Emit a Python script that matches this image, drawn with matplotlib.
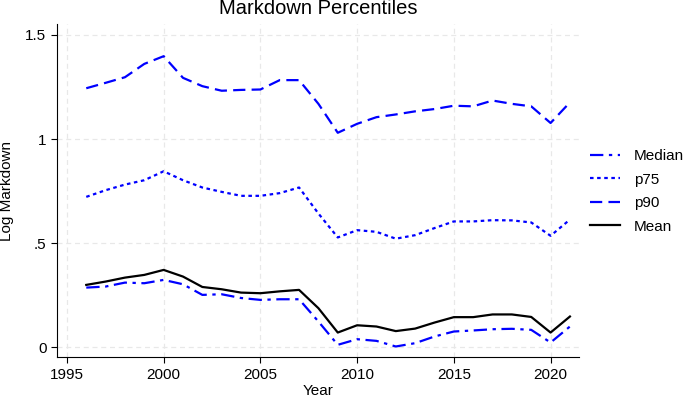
import matplotlib
matplotlib.use("Agg")
import matplotlib.pyplot as plt

# data
years = list(range(1996, 2022))
median = [0.286, 0.291, 0.310, 0.307, 0.323, 0.302, 0.251, 0.254, 0.236, 0.227,
          0.230, 0.230, 0.123, 0.011, 0.038, 0.030, 0.003, 0.019, 0.051, 0.075,
          0.080, 0.086, 0.088, 0.083, 0.022, 0.099]
p75 = [0.722, 0.754, 0.781, 0.802, 0.845, 0.802, 0.767, 0.746, 0.727, 0.727,
       0.740, 0.767, 0.642, 0.527, 0.562, 0.554, 0.521, 0.538, 0.572, 0.604,
       0.604, 0.610, 0.609, 0.599, 0.535, 0.613]
p90 = [1.244, 1.270, 1.297, 1.361, 1.398, 1.294, 1.254, 1.232, 1.236, 1.238,
       1.283, 1.283, 1.169, 1.030, 1.073, 1.105, 1.118, 1.133, 1.144, 1.160,
       1.157, 1.185, 1.169, 1.157, 1.077, 1.176]
mean = [0.299, 0.315, 0.334, 0.347, 0.371, 0.339, 0.289, 0.278, 0.262, 0.259,
        0.268, 0.275, 0.187, 0.070, 0.105, 0.099, 0.077, 0.089, 0.118, 0.144,
        0.144, 0.157, 0.157, 0.145, 0.070, 0.147]

xticks = [1995, 2000, 2005, 2010, 2015, 2020]
yticks = [0, 0.5, 1, 1.5]
ylabels = ["0", ".5", "1", "1.5"]

plt.rcParams['font.family'] = ['Liberation Sans', 'DejaVu Sans']

fig = plt.figure(figsize=(6.85, 3.99), dpi=100)
ax = fig.add_axes([0.083, 0.105, 0.762, 0.835])

blue = "#0000ff"
ax.plot(years, median, color=blue, lw=1.6, dashes=(6, 2.5, 1.5, 2.5), label="Median")
ax.plot(years, p75, color=blue, lw=1.6, dashes=(1.6, 1.6), label="p75")
ax.plot(years, p90, color=blue, lw=1.6, dashes=(5.5, 2.8), label="p90")
ax.plot(years, mean, color="black", lw=1.6, label="Mean")

ax.set_xlim(1994.48, 2021.46)
ax.set_ylim(-0.048, 1.553)
ax.set_xticks(xticks)
ax.set_yticks(yticks)
ax.set_yticklabels(ylabels)
ax.tick_params(labelsize=11, length=4, width=0.8, direction="out")

ax.grid(True, color="#e8e8e8", ls=(0, (4, 3)), lw=0.9)
ax.set_axisbelow(True)
for s in ["top", "right"]:
    ax.spines[s].set_visible(False)

ax.set_title("Markdown Percentiles", fontsize=14.5, pad=7)
ax.set_xlabel("Year", fontsize=11, labelpad=2)
ax.set_ylabel("Log Markdown", fontsize=11, labelpad=8)

fig.legend(loc="center left", bbox_to_anchor=(0.841, 0.52), frameon=False,
           fontsize=11, handlelength=2.0, handletextpad=0.9, labelspacing=0.62)

fig.savefig("out.png", dpi=100)
